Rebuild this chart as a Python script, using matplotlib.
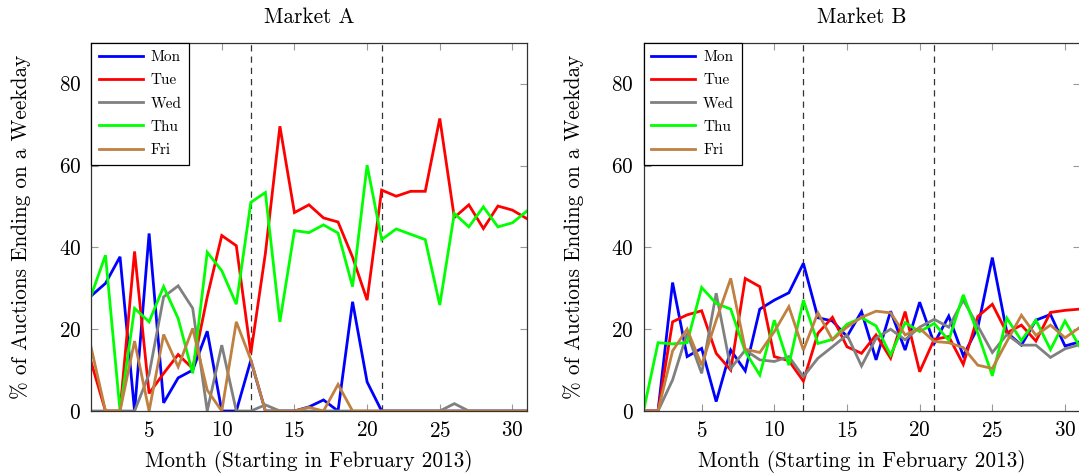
import numpy as np
import matplotlib
matplotlib.use('Agg')
import matplotlib.pyplot as plt

# Month index (starting in February 2013)
months = np.arange(1, 32)
days = ['Mon', 'Tue', 'Wed', 'Thu', 'Fri']

# Market A, % of auctions ending on each weekday
mon_a = [28.1, 31.2, 37.7, 0, 43.4, 2.0, 8.1, 10.0, 19.5, 0, 0, 12.4, 0, 0, 0, 1.0,
         2.7, 0, 26.7, 7.1, 0, 0, 0, 0, 0, 0, 0, 0, 0, 0, 0]
tue_a = [12.1, 0, 0, 39.0, 4.3, 9.2, 13.8, 10.4, 27.9, 42.9, 40.4, 14.1, 38.5, 69.6,
         48.5, 50.4, 47.2, 46.2, 37.6, 27.1, 54.0, 52.5, 53.7, 53.7, 71.5, 47.3, 50.4,
         44.6, 50.1, 49.1, 47.0]
wed_a = [0, 0, 0, 0, 9.0, 27.9, 30.6, 25.1, 0, 16.1, 0, 0, 1.5, 0, 0, 0, 0, 0, 0, 0,
         0, 0, 0, 0, 0, 1.8, 0, 0, 0, 0, 0]
thu_a = [28.1, 38.1, 0, 25.1, 21.8, 30.4, 22.6, 9.2, 38.8, 34.3, 26.1, 51.0, 53.4, 21.8,
         44.1, 43.6, 45.5, 43.5, 30.4, 60.1, 41.9, 44.5, 43.2, 41.9, 25.9, 48.3, 45.0,
         49.9, 45.0, 46.0, 48.9]
fri_a = [15.7, 0, 0, 17.1, 0, 18.7, 10.8, 20.2, 5.1, 0, 21.8, 12.5, 0, 0, 0, 0.9, 0,
         6.5, 0, 0, 0, 0, 0, 0, 0, 0, 0, 0, 0, 0, 0]

# Market B
mon_b = [0, 0, 31.4, 13.3, 15.3, 2.3, 14.9, 9.8, 24.9, 27.1, 28.9, 36.1, 22.8, 22.0,
         18.2, 24.3, 12.5, 24.4, 14.9, 26.6, 16.5, 23.2, 13.5, 20.4, 37.5, 19.2, 16.1,
         22.2, 23.6, 15.9, 16.9]
tue_b = [0, 0, 21.8, 23.5, 24.5, 14.1, 10.0, 32.4, 30.4, 13.3, 12.3, 7.3, 19.0, 22.9,
         15.7, 14.1, 18.6, 12.9, 24.3, 9.6, 17.5, 18.2, 11.4, 23.1, 26.1, 19.1, 21.0,
         17.1, 24.1, 24.6, 24.9]
wed_b = [0, 0, 7.6, 19.0, 9.2, 28.8, 10.4, 14.9, 12.5, 12.1, 13.3, 8.4, 12.9, 15.7,
         18.6, 11.0, 17.8, 20.0, 17.4, 20.5, 22.4, 20.5, 27.1, 20.8, 14.3, 18.7, 16.1,
         16.1, 13.1, 15.2, 16.2]
thu_b = [0, 16.7, 16.4, 16.7, 30.2, 26.3, 24.9, 14.5, 8.8, 22.2, 11.2, 27.1, 16.5, 17.5,
         21.2, 22.8, 20.8, 13.7, 21.6, 19.4, 21.4, 17.3, 28.4, 19.0, 8.6, 22.7, 17.2,
         22.2, 15.0, 22.0, 15.8]
fri_b = [0, 0, 14.7, 20.0, 11.2, 22.2, 32.4, 15.1, 14.3, 19.4, 25.5, 14.9, 24.0, 17.4,
         20.5, 22.9, 24.4, 24.0, 18.6, 20.2, 17.0, 16.7, 15.5, 11.2, 10.4, 17.0, 23.4,
         18.5, 21.0, 17.9, 20.4]

# Months where the dashed markers are drawn
breaks = [12, 21]

colors = ['#0000ff', '#ff0000', '#808080', '#00ff00', '#bf8040']

plt.rcParams['font.family'] = ['cmr10', 'DejaVu Serif']
plt.rcParams['axes.formatter.use_mathtext'] = True
plt.rcParams['mathtext.fontset'] = 'cm'


def draw_market(ax, series, title):
    for vals, day, col in zip(series, days, colors):
        ax.plot(months, vals, color=col, lw=2.0, label=day, solid_joinstyle='miter')
    for b in breaks:
        ax.axvline(b, color='#333333', lw=0.9, ls=(0, (5, 4)), zorder=0)

    ax.set_xlim(1, 31)
    ax.set_ylim(0, 90)
    ax.set_xticks([5, 10, 15, 20, 25, 30])
    ax.set_yticks([0, 20, 40, 60, 80])
    ax.tick_params(direction='in', length=5, width=0.8, color='#999999',
                   top=True, right=True, labelsize=15.3, pad=7)
    for sp in ax.spines.values():
        sp.set_linewidth(0.9)
        sp.set_color('#333333')

    ax.set_title(title, fontsize=15.3, pad=14)
    ax.set_xlabel('Month (Starting in February 2013)', fontsize=15.3, labelpad=7)
    ax.set_ylabel('% of Auctions Ending on a Weekday', fontsize=15.3, labelpad=20)

    leg = ax.legend(loc='upper left', borderaxespad=0, fancybox=False,
                    fontsize=11, handlelength=2.9, handletextpad=0.5,
                    labelspacing=0.62, borderpad=0.5, framealpha=1)
    leg.get_frame().set_edgecolor('black')
    leg.get_frame().set_linewidth(0.9)


fig = plt.figure(figsize=(10.79, 4.74), dpi=100)
ax_a = fig.add_axes([0.0843, 0.1329, 0.4041, 0.7768])
ax_b = fig.add_axes([0.5964, 0.1329, 0.4041, 0.7768])

draw_market(ax_a, [mon_a, tue_a, wed_a, thu_a, fri_a], 'Market A')
draw_market(ax_b, [mon_b, tue_b, wed_b, thu_b, fri_b], 'Market B')

fig.savefig('out.png', dpi=100)
